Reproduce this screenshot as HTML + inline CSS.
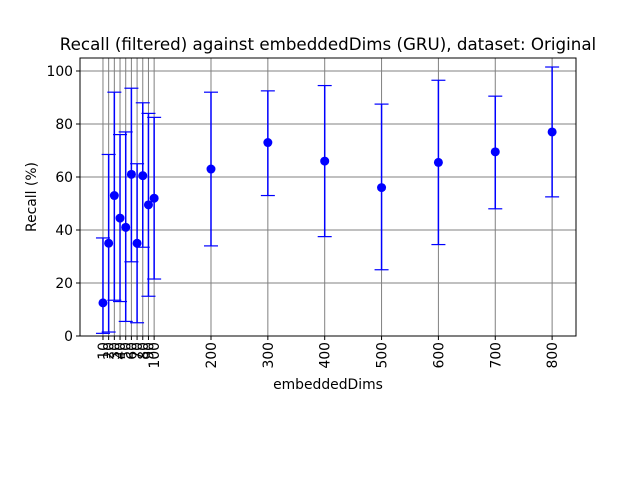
<!DOCTYPE html>
<html><head><meta charset="utf-8"><style>body{margin:0;background:#fff}svg{display:block;font-family:"DejaVu Sans","Liberation Sans",sans-serif}</style></head>
<body>
<svg id="chart" width="640" height="480">
<rect width="640" height="480" fill="#fff"/>
<text x="328" y="50" text-anchor="middle" font-size="16.7">Recall (filtered) against embeddedDims (GRU), dataset: Original</text>
<g id="grid"></g><g id="marks"></g><g id="axes"></g>
<text x="328" y="389" text-anchor="middle" font-size="13.9">embeddedDims</text>
<text transform="translate(36,197) rotate(-90)" text-anchor="middle" font-size="13.9">Recall (%)</text>
</svg>
<script>
const dims=[10,20,30,40,50,60,70,80,90,100,200,300,400,500,600,700,800];
const recall=[12.5,35,53,44.5,41,61,35,60.5,49.5,52,63,73,66,56,65.5,69.5,77];
const lower=[1,1.5,13.5,13,5.5,28,5,33.5,15,21.5,34,53,37.5,25,34.5,48,52.5];
const upper=[37,68.5,92,76,77,93.5,65,88,84,82.5,92,92.5,94.5,87.5,96.5,90.5,101.5];
const yTicks=[0,20,40,60,80,100];
const L=80,R=576,T=58,B=336;
const xMin=-30.4,xMax=842,yMin=0,yMax=104.9;
const sx=v=>L+(v-xMin)/(xMax-xMin)*(R-L);
const sy=v=>B-(v-yMin)/(yMax-yMin)*(B-T);
const NS="http://www.w3.org/2000/svg";
function mk(tag,attrs,parent){const e=document.createElementNS(NS,tag);for(const k in attrs)e.setAttribute(k,attrs[k]);parent.appendChild(e);return e;}
const grid=document.getElementById('grid'),marks=document.getElementById('marks'),axes=document.getElementById('axes');
dims.forEach(d=>{const l=mk('line',{x1:sx(d),x2:sx(d),y1:T,y2:B,stroke:'#808080','stroke-width':1},grid);


const tk=mk('line',{x1:sx(d),x2:sx(d),y1:B,y2:B+4,stroke:'#000'},axes);


const t=mk('text',{transform:`translate(${sx(d)+5},${B+6}) rotate(-90)`,'text-anchor':'end','font-size':13.9},axes);t.textContent=d;

});
yTicks.forEach(v=>{const l=mk('line',{x1:L,x2:R,y1:sy(v),y2:sy(v),stroke:'#808080'},grid);


const tk=mk('line',{x1:L-4,x2:L,y1:sy(v),y2:sy(v),stroke:'#000'},axes);


const t=mk('text',{x:L-7,y:sy(v)+5,'text-anchor':'end','font-size':13.9},axes);t.textContent=v;

});
dims.forEach((d,i)=>{const x=sx(d);
const g=mk('g',{},marks);


mk('line',{x1:x,x2:x,y1:sy(lower[i]),y2:sy(upper[i]),stroke:'#0000ff','stroke-width':1.5},g);
mk('line',{x1:x-7,x2:x+7,y1:sy(lower[i]),y2:sy(lower[i]),stroke:'#0000ff','stroke-width':1.2},g);
mk('line',{x1:x-7,x2:x+7,y1:sy(upper[i]),y2:sy(upper[i]),stroke:'#0000ff','stroke-width':1.2},g);
const c=mk('circle',{cx:x,cy:sy(recall[i]),r:4.5,fill:'#0000ff'},marks);

});
const f=mk('rect',{x:L,y:T,width:R-L,height:B-T,fill:'none',stroke:'#000','stroke-width':1},axes);


</script>
</body></html>
